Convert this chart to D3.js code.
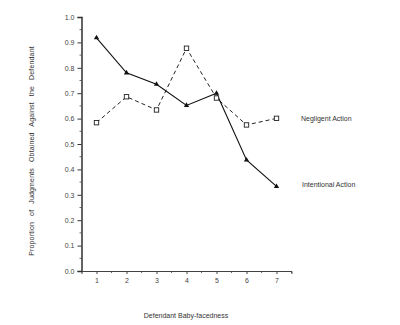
<!DOCTYPE html>
<html>
<head>
<meta charset="utf-8">
<script src="https://cdn.jsdelivr.net/npm/d3@7"></script>
<style>
  html, body { margin: 0; padding: 0; background: #fff; }
  svg text { font-family: "Liberation Sans", Arial, sans-serif; fill: #333; }
</style>
</head>
<body>
<svg id="chart" width="400" height="325"></svg>
<script>
// Baby-facedness ratings on the x axis
const faceLevels = [1, 2, 3, 4, 5, 6, 7];
// Proportion of judgments against the defendant, per condition
const intentional = [0.918, 0.780, 0.735, 0.652, 0.700, 0.437, 0.333];
const negligent   = [0.584, 0.686, 0.634, 0.877, 0.681, 0.575, 0.601];
const yTicks = [0, 0.1, 0.2, 0.3, 0.4, 0.5, 0.6, 0.7, 0.8, 0.9, 1.0];
const seriesNames = ["Negligent Action", "Intentional Action"];

const svg = d3.select("#chart");

const x = d3.scaleLinear().domain([0.5, 7.5]).range([81.5, 291.5]);
const y = d3.scaleLinear().domain([0, 1]).range([271, 17]);

// Axes
const yAxis = d3.axisLeft(y).tickValues(yTicks).tickFormat(d3.format(".1f")).tickSize(4).tickPadding(3);
const gy = svg.append("g").attr("transform", `translate(${x(0.5)},0)`).call(yAxis);
gy.select(".domain").attr("stroke", "#222").attr("stroke-width", 1.4);
gy.selectAll(".tick line").attr("stroke", "#333");
gy.selectAll("text").style("font-size", "7px").style("fill", "#444");

// minor y ticks
svg.append("g").selectAll("line")
  .data(d3.range(0.05, 1, 0.1))
  .join("line")
  .attr("x1", x(0.5) - 2).attr("x2", x(0.5))
  .attr("y1", d => y(d)).attr("y2", d => y(d))
  .attr("stroke", "#444").attr("stroke-width", 0.8);

const xAxis = d3.axisBottom(x).tickValues(faceLevels).tickFormat(d3.format("d")).tickSize(3).tickPadding(4);
const gx = svg.append("g").attr("transform", `translate(0,${y(0)})`).call(xAxis);
gx.select(".domain").attr("stroke", "#444").attr("stroke-width", 1);
gx.selectAll(".tick line").attr("stroke", "#444");
gx.selectAll("text").style("font-size", "7px").style("fill", "#444");

// minor x ticks
svg.append("g").selectAll("line")
  .data(d3.range(1.5, 7.6, 1))
  .join("line")
  .attr("x1", d => x(d)).attr("x2", d => x(d))
  .attr("y1", y(0)).attr("y2", y(0) + 2)
  .attr("stroke", "#444").attr("stroke-width", 0.8);

// Lines
const line = d3.line().x((d, i) => x(faceLevels[i])).y(d => y(d));

svg.append("path").datum(negligent)
  .attr("d", line).attr("fill", "none")
  .attr("stroke", "#222").attr("stroke-width", 1)
  .attr("stroke-dasharray", "4,3");

svg.append("path").datum(intentional)
  .attr("d", line).attr("fill", "none")
  .attr("stroke", "#111").attr("stroke-width", 1.1);

// Markers
svg.append("g").selectAll("rect")
  .data(negligent)
  .join("rect")
  .attr("x", (d, i) => x(faceLevels[i]) - 2.2)
  .attr("y", d => y(d) - 2.2)
  .attr("width", 4.4).attr("height", 4.4)
  .attr("fill", "#fff").attr("stroke", "#222").attr("stroke-width", 0.9);

const tri = d3.symbol().type(d3.symbolTriangle).size(12);
svg.append("g").selectAll("path")
  .data(intentional)
  .join("path")
  .attr("d", tri)
  .attr("transform", (d, i) => `translate(${x(faceLevels[i])},${y(d)})`)
  .attr("fill", "#111");

// Series labels
svg.append("text").attr("x", 301).attr("y", 120.5)
  .style("font-size", "7px").text(seriesNames[0]);
svg.append("text").attr("x", 302).attr("y", 186.5)
  .style("font-size", "7px").text(seriesNames[1]);

// Axis titles
svg.append("text")
  .attr("transform", "translate(34,151) rotate(-90)")
  .attr("text-anchor", "middle")
  .style("font-size", "7px").style("word-spacing", "4px").style("letter-spacing", "0.15px")
  .text("Proportion of Judgments Obtained Against the Defendant");

svg.append("text")
  .attr("x", 186).attr("y", 318)
  .attr("text-anchor", "middle")
  .style("font-size", "7px")
  .text("Defendant Baby-facedness");
</script>
</body>
</html>
